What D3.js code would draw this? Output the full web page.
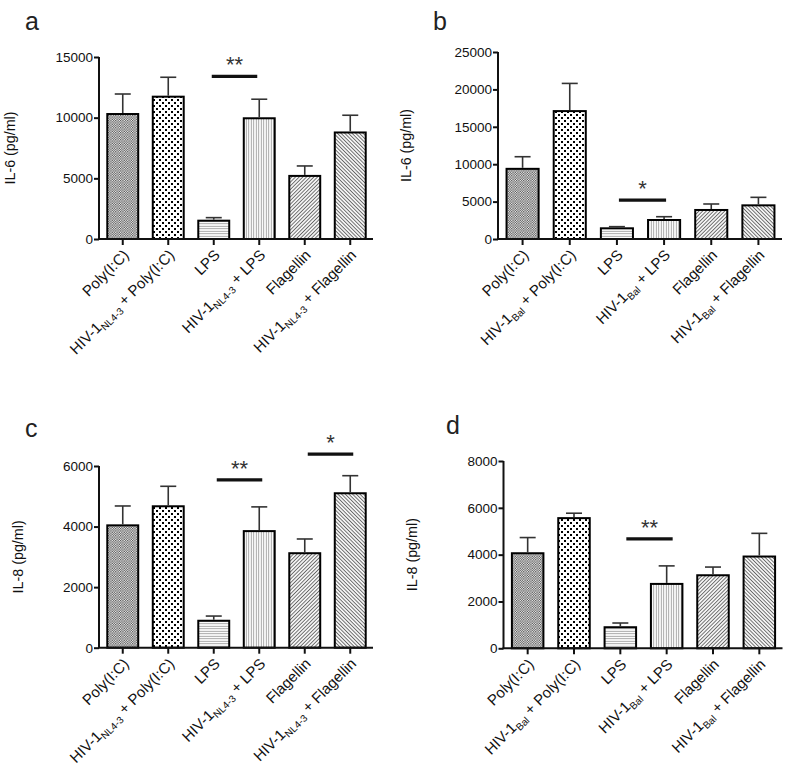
<!DOCTYPE html>
<html>
<head>
<meta charset="utf-8">
<script src="https://cdn.jsdelivr.net/npm/d3@7/dist/d3.min.js"></script>
<style>
  html, body { margin: 0; padding: 0; background: #fff; }
  svg { display: block; font-family: "Liberation Sans", Arial, sans-serif; }
</style>
</head>
<body>
<svg id="chart" width="787" height="765"></svg>
<script>
// ---------------- DATA ----------------
const categoryKeys = ["poly", "hivPoly", "lps", "hivLps", "flag", "hivFlag"];
// label parts: [main, subscript, rest]
const labelsNL = [
  ["Poly(I:C)", "", ""],
  ["HIV-1", "NL4-3", " + Poly(I:C)"],
  ["LPS", "", ""],
  ["HIV-1", "NL4-3", " + LPS"],
  ["Flagellin", "", ""],
  ["HIV-1", "NL4-3", " + Flagellin"]
];
const labelsBal = [
  ["Poly(I:C)", "", ""],
  ["HIV-1", "Bal", " + Poly(I:C)"],
  ["LPS", "", ""],
  ["HIV-1", "Bal", " + LPS"],
  ["Flagellin", "", ""],
  ["HIV-1", "Bal", " + Flagellin"]
];

const meanA = [10300, 11730, 1510, 9950, 5200, 8780];
const semA  = [1650, 1600, 250, 1570, 820, 1420];
const ticksA = [0, 5000, 10000, 15000];

const meanB = [9380, 17100, 1430, 2540, 3880, 4500];
const semB  = [1620, 3700, 220, 440, 800, 1070];
const ticksB = [0, 5000, 10000, 15000, 20000, 25000];

const meanC = [4040, 4670, 890, 3850, 3120, 5100];
const semC  = [640, 660, 155, 800, 470, 580];
const ticksC = [0, 2000, 4000, 6000];

const meanD = [4060, 5560, 900, 2750, 3120, 3920];
const semD  = [670, 210, 180, 770, 350, 990];
const ticksD = [0, 2000, 4000, 6000, 8000];

// significance brackets: [fromIndex, toIndex, yValue, label]
const sigA = [[2, 3, 13400, "**"]];
const sigB = [[2, 3, 5200, "*"]];
const sigC = [[2, 3, 5540, "**"], [4, 5, 6390, "*"]];
const sigD = [[2, 3, 4670, "**"]];

const yTitleA = "IL-6 (pg/ml)";
const yTitleB = "IL-6 (pg/ml)";
const yTitleC = "IL-8 (pg/ml)";
const yTitleD = "IL-8 (pg/ml)";
const panelLetters = ["a", "b", "c", "d"];

// ---------------- LAYOUT ----------------
const svg = d3.select("#chart");
const defs = svg.append("defs");

function pat(id, w, h, build, transform) {
  const p = defs.append("pattern").attr("id", id)
    .attr("patternUnits", "userSpaceOnUse").attr("width", w).attr("height", h);
  if (transform) p.attr("patternTransform", transform);
  p.append("rect").attr("width", w).attr("height", h).attr("fill", "#fff");
  build(p);
}
pat("p0", 2.4, 2.4, p => {
  p.append("rect").attr("x", 0).attr("y", 0).attr("width", 1.2).attr("height", 1.2).attr("fill", "#444");
  p.append("rect").attr("x", 1.2).attr("y", 1.2).attr("width", 1.2).attr("height", 1.2).attr("fill", "#444");
});
pat("p1", 6, 6, p => {
  p.append("rect").attr("x", 0).attr("y", 0).attr("width", 2).attr("height", 2).attr("fill", "#000");
  p.append("rect").attr("x", 3).attr("y", 3).attr("width", 2).attr("height", 2).attr("fill", "#000");
});
pat("p2", 4, 2.5, p => {
  p.append("line").attr("x1", 0).attr("x2", 4).attr("y1", 1.25).attr("y2", 1.25)
    .attr("stroke", "#999").attr("stroke-width", 0.9);
});
pat("p3", 2.5, 4, p => {
  p.append("line").attr("y1", 0).attr("y2", 4).attr("x1", 1.25).attr("x2", 1.25)
    .attr("stroke", "#999").attr("stroke-width", 0.9);
});
pat("p4", 2.6, 4, p => {
  p.append("line").attr("y1", 0).attr("y2", 4).attr("x1", 1.3).attr("x2", 1.3)
    .attr("stroke", "#666").attr("stroke-width", 1);
}, "rotate(45)");
pat("p5", 2.6, 4, p => {
  p.append("line").attr("y1", 0).attr("y2", 4).attr("x1", 1.3).attr("x2", 1.3)
    .attr("stroke", "#666").attr("stroke-width", 1);
}, "rotate(-45)");
const fills = ["url(#p0)", "url(#p1)", "url(#p2)", "url(#p3)", "url(#p4)", "url(#p5)"];

const panels = [
  { letter: panelLetters[0], lx: 25, ly: 30, mean: meanA, sem: semA, ticks: ticksA, sig: sigA, labels: labelsNL, title: yTitleA,
    x0: 100, x1: 373, y0: 239, yTop: 57, titleX: 10, sigShift: 0 },
  { letter: panelLetters[1], lx: 433, ly: 30, mean: meanB, sem: semB, ticks: ticksB, sig: sigB, labels: labelsBal, title: yTitleB,
    x0: 499, x1: 782, y0: 239, yTop: 52, titleX: 406, sigShift: 4 },
  { letter: panelLetters[2], lx: 25, ly: 437, mean: meanC, sem: semC, ticks: ticksC, sig: sigC, labels: labelsNL, title: yTitleC,
    x0: 100, x1: 373, y0: 647.7, yTop: 466, titleX: 18, sigShift: 5 },
  { letter: panelLetters[3], lx: 446, ly: 434, mean: meanD, sem: semD, ticks: ticksD, sig: sigD, labels: labelsBal, title: yTitleD,
    x0: 504.5, x1: 782.5, y0: 648.3, yTop: 461, titleX: 412, sigShift: 8 }
];

panels.forEach(P => {
  const g = svg.append("g");
  const yMax = P.ticks[P.ticks.length - 1];
  const y = d3.scaleLinear().domain([0, yMax]).range([P.y0, P.yTop]);
  const x = d3.scaleBand().domain(categoryKeys).range([P.x0, P.x1])
    .paddingInner(0.32).paddingOuter(0.16);
  const bw = x.bandwidth();

  g.append("text").attr("x", P.lx).attr("y", P.ly).attr("font-size", 25)
    .attr("fill", "#222").text(P.letter);

  g.selectAll("rect.bar").data(P.mean).join("rect").attr("class", "bar")
    .attr("x", (d, i) => x(categoryKeys[i]))
    .attr("y", d => y(d))
    .attr("width", bw)
    .attr("height", d => y(0) - y(d))
    .attr("fill", (d, i) => fills[i])
    .attr("stroke", "#000").attr("stroke-width", 2);

  const eg = g.append("g").attr("stroke", "#333").attr("stroke-width", 1.6);
  P.mean.forEach((m, i) => {
    const cx = x(categoryKeys[i]) + bw / 2;
    eg.append("line").attr("x1", cx).attr("x2", cx).attr("y1", y(m) - 1).attr("y2", y(m + P.sem[i]));
    eg.append("line").attr("x1", cx - 8).attr("x2", cx + 8).attr("y1", y(m + P.sem[i])).attr("y2", y(m + P.sem[i]));
  });

  const ya = g.append("g").attr("transform", `translate(${P.x0 - 1},0)`)
    .call(d3.axisLeft(y).tickValues(P.ticks).tickSize(5).tickPadding(1).tickFormat(d3.format("d")));
  ya.select(".domain").attr("stroke", "#111").attr("stroke-width", 2).attr("d", `M0,${P.y0}V${P.yTop}`);
  ya.selectAll(".tick line").attr("stroke", "#111").attr("stroke-width", 2);
  ya.selectAll(".tick text").attr("font-size", 13.5).attr("fill", "#111")
    .attr("font-family", "'Liberation Sans', Arial, sans-serif");

  const xa = g.append("g").attr("transform", `translate(0,${P.y0})`)
    .call(d3.axisBottom(x).tickSize(6).tickFormat(""));
  xa.select(".domain").attr("stroke", "#111").attr("stroke-width", 2).attr("d", `M${P.x0 - 2},0H${P.x1}`);
  xa.selectAll(".tick line").attr("stroke", "#111").attr("stroke-width", 2);

  P.labels.forEach((lab, i) => {
    const cx = x(categoryKeys[i]) + bw / 2;
    const t = g.append("text")
      .attr("transform", `translate(${cx + 7},${P.y0 + 17}) rotate(-45)`)
      .attr("text-anchor", "end").attr("font-size", 15).attr("fill", "#111");
    t.append("tspan").text(lab[0]);
    if (lab[1]) {
      t.append("tspan").attr("font-size", 10).attr("dy", 3.5).text(lab[1]);
      t.append("tspan").attr("dy", -3.5).text(lab[2]);
    }
  });

  const cy = (P.y0 + P.yTop) / 2;
  g.append("text").attr("transform", `translate(${P.titleX + 5},${cy}) rotate(-90)`)
    .attr("text-anchor", "middle").attr("font-size", 14.3).attr("fill", "#111").text(P.title);

  P.sig.forEach(s => {
    const xa1 = x(categoryKeys[s[0]]) + bw / 2 - 2 + P.sigShift;
    const xa2 = x(categoryKeys[s[1]]) + bw / 2 - 2 + P.sigShift;
    g.append("line").attr("x1", xa1).attr("x2", xa2).attr("y1", y(s[2])).attr("y2", y(s[2]))
      .attr("stroke", "#111").attr("stroke-width", 3.2);
    g.append("text").attr("x", (xa1 + xa2) / 2).attr("y", y(s[2]) - 4)
      .attr("text-anchor", "middle").attr("font-size", 22).attr("fill", "#333").text(s[3]);
  });
});
</script>
</body>
</html>
